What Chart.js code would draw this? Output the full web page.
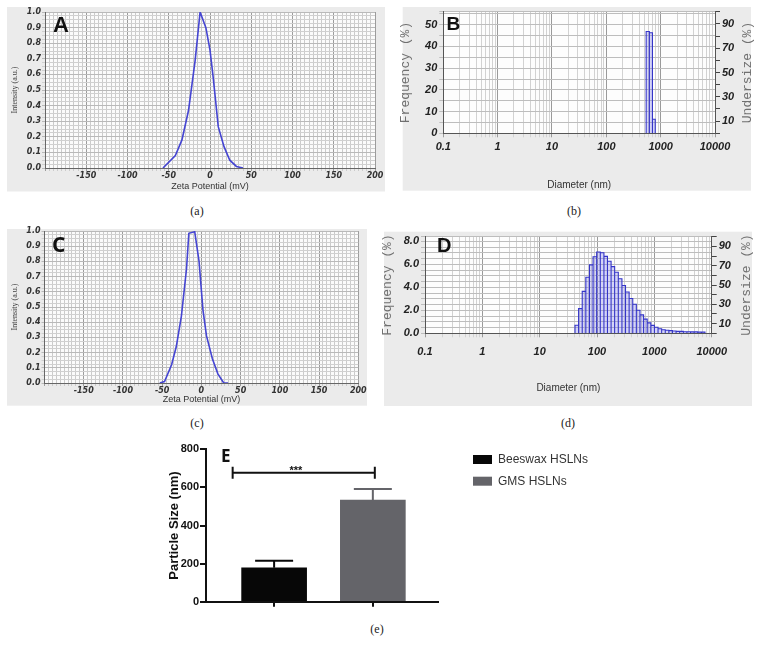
<!DOCTYPE html>
<html>
<head>
<meta charset="utf-8">
<script src="https://cdn.jsdelivr.net/npm/chart.js@4.4.1/dist/chart.umd.min.js"></script>
<style>
  body { margin: 0; background: #fff; width: 760px; height: 654px; position: relative; overflow: hidden; }
  canvas { position: absolute; }
  .cap { position: absolute; width: 40px; margin-left: -20px; text-align: center;
         font: 12px 'Liberation Serif', serif; line-height: 14px; color: #222; }
</style>
</head>
<body>
<canvas id="chartA" width="386" height="192" style="left:3px;top:3px"></canvas>
<canvas id="chartB" width="356" height="192" style="left:399px;top:3px"></canvas>
<canvas id="chartC" width="368" height="186" style="left:3px;top:225px"></canvas>
<canvas id="chartD" width="375" height="182" style="left:380px;top:227px"></canvas>
<canvas id="chartE" width="460" height="180" style="left:150px;top:440px"></canvas>
<div class="cap" style="left:197px;top:204px">(a)</div>
<div class="cap" style="left:574px;top:204px">(b)</div>
<div class="cap" style="left:197px;top:416px">(c)</div>
<div class="cap" style="left:568px;top:416px">(d)</div>
<div class="cap" style="left:377px;top:622px">(e)</div>
<script>
// zeta potential distributions (panels A, C)
const zetaA = [-57, -42, -34, -26, -18, -12, -5, 0, 4, 10, 17, 24, 32, 40];
const intensityA = [0, 0.08, 0.18, 0.37, 0.69, 1.0, 0.9, 0.755, 0.575, 0.265, 0.137, 0.05, 0.01, 0];
const zetaC = [-53, -47, -38, -32, -25.5, -19, -16, -8.5, -3, 2, 6.5, 14, 21, 28.5, 34];
const intensityC = [0, 0.01, 0.12, 0.24, 0.44, 0.75, 0.985, 0.995, 0.8, 0.48, 0.31, 0.16, 0.06, 0, 0];
const zetaTickLabels = [-150, -100, -50, 0, 50, 100, 150, 200];

// size distributions (panels B, D): bin edges in nm, frequency in %
const binEdgesB = [541, 620, 706, 795];
const freqB = [46.9, 46.3, 6.5];
const binEdgesD = [41.3, 47.7, 55.2, 63.8, 73.8, 85.3, 98.6, 114, 132, 152, 176, 203, 235, 272, 314, 363,
  420, 485, 561, 649, 750, 867, 1002, 1159, 1340, 1549, 1790, 2070, 2392, 2766, 3197, 3696, 4272, 4939, 5709, 6600, 7629];
const freqD = [0.7, 2.15, 3.65, 4.88, 5.95, 6.66, 7.07, 7.0, 6.69, 6.26, 5.8, 5.31, 4.74, 4.16, 3.59, 3.02, 2.53, 2.01,
  1.6, 1.23, 0.91, 0.69, 0.52, 0.4, 0.31, 0.26, 0.23, 0.2, 0.17, 0.17, 0.14, 0.14, 0.12, 0.12, 0.1, 0.1];
const diameterDecades = [0.1, 1, 10, 100, 1000, 10000];
const undersizeLabels = [10, 30, 50, 70, 90];

// particle size comparison (panel E)
const formulations = ['Beeswax HSLNs', 'GMS HSLNs'];
const particleSize = [178, 534];
const particleSD = [37, 57];
const barColors = ['#070707', '#646469'];
const bracketX = [-0.42, 1.02];
const bracketY = 677;
const sigLabel = '***';

const BLUE = '#4545d2';
const tickFont = "'Liberation Sans', Arial, sans-serif";

function bgPlugin(box, plotFill) {
  return {
    id: 'panelBg',
    beforeDraw(chart) {
      const { ctx, chartArea: a } = chart;
      ctx.save();
      ctx.fillStyle = '#ebebeb';
      ctx.fillRect(box[0], box[1], box[2] - box[0], box[3] - box[1]);
      ctx.fillStyle = plotFill;
      ctx.fillRect(a.left, a.top, a.right - a.left, a.bottom - a.top);
      ctx.restore();
    }
  };
}

function letterPlugin(text, x, y, font) {
  return {
    id: 'panelLetter',
    afterDraw(chart) {
      const ctx = chart.ctx;
      ctx.save();
      ctx.font = font;
      ctx.fillStyle = '#111';
      ctx.textBaseline = 'alphabetic';
      ctx.fillText(text, x, y);
      ctx.restore();
    }
  };
}

function rightTitlePlugin(text, x) {
  return {
    id: 'rightTitle',
    afterDraw(chart) {
      const a = chart.chartArea, ctx = chart.ctx;
      ctx.save();
      ctx.translate(x, (a.top + a.bottom) / 2);
      ctx.rotate(-Math.PI / 2);
      ctx.font = "13px 'Liberation Mono', monospace";
      ctx.fillStyle = '#707070';
      ctx.textAlign = 'center';
      ctx.textBaseline = 'middle';
      ctx.fillText(text, 0, 0);
      ctx.restore();
    }
  };
}

function stepTicks(top, step, max) {
  const t = [];
  for (let k = 0; k * step <= top + 1e-9; k++) t.push({ value: +(k * step).toFixed(4) });
  if (max > top) t.push({ value: max });
  return t;
}

function makeZeta(id, zeta, intensity, o) {
  new Chart(document.getElementById(id), {
    type: 'scatter',
    data: {
      datasets: [{
        data: zeta.map((x, i) => ({ x, y: intensity[i] })),
        showLine: true, pointRadius: 0, borderColor: BLUE, borderWidth: 1.6, tension: 0
      }]
    },
    options: {
      responsive: false, animation: false,
      layout: { padding: { top: o.padTop, right: o.padRight, left: 0, bottom: 0 } },
      plugins: { legend: { display: false }, tooltip: { enabled: false } },
      scales: {
        x: {
          min: -200, max: 200,
          afterBuildTicks: s => { s.ticks = stepTicks(400, 5, 400).map(t => ({ value: t.value - 200 })); },
          afterFit: s => { s.height = o.xHeight; },
          ticks: {
            autoSkip: false, maxRotation: 0, minRotation: 0, padding: 0,
            color: '#333', font: { family: 'DejaVu Sans', size: 8, style: 'italic', weight: 'bold' },
            callback: v => zetaTickLabels.includes(v) ? String(v) : ''
          },
          grid: {
            tickLength: 3,
            color: c => (c.tick && c.tick.value % 50 === 0) ? '#9c9c9c' : '#cbcbcb'
          },
          border: { color: '#666' },
          title: {
            display: true, text: 'Zeta Potential (mV)', color: '#333',
            font: { family: 'Liberation Sans', size: 9 }, padding: { top: 0, bottom: o.xTitlePad }
          }
        },
        y: {
          min: 0, max: 1,
          afterBuildTicks: s => { s.ticks = stepTicks(1, 0.025, 1); },
          afterFit: s => { s.width = o.yWidth; },
          ticks: {
            autoSkip: false, padding: 1,
            color: '#333', font: { family: 'DejaVu Sans', size: 8, style: 'italic', weight: 'bold' },
            callback: v => Math.abs(v * 10 - Math.round(v * 10)) < 1e-6 ? v.toFixed(1) : ''
          },
          grid: {
            tickLength: 3,
            color: c => (c.tick && Math.abs(c.tick.value * 10 - Math.round(c.tick.value * 10)) < 1e-6) ? '#b9b9b9' : '#d0d0d0'
          },
          border: { color: '#666' },
          title: {
            display: true, text: 'Intensity (a.u.)', color: '#444',
            font: { family: 'Liberation Serif', size: 8 }, padding: { top: o.yTitlePad, bottom: 0 }
          }
        }
      }
    },
    plugins: [bgPlugin(o.box, '#fbfbfb'), letterPlugin(o.letter, o.lx, o.ly, o.lfont)]
  });
}

function histOutline(edges, heights) {
  const pts = [];
  heights.forEach((h, i) => {
    pts.push({ x: edges[i], y: 0 }, { x: edges[i], y: h }, { x: edges[i + 1], y: h }, { x: edges[i + 1], y: 0 });
  });
  return pts;
}

function logGridTicks(decades) {
  const out = [];
  decades.forEach((d, i) => {
    out.push(d);
    if (i < decades.length - 1) {
      for (let m = 2; m <= 9; m++) out.push(+(d * m).toPrecision(6));
    }
  });
  return out.map(v => ({ value: v }));
}

function makeSize(id, edges, freq, o) {
  new Chart(document.getElementById(id), {
    type: 'scatter',
    data: {
      datasets: [{
        data: histOutline(edges, freq),
        showLine: true, pointRadius: 0, borderColor: '#3535c8', borderWidth: 1.1, tension: 0,
        fill: 'origin', backgroundColor: 'rgba(120,120,235,0.3)'
      }]
    },
    options: {
      responsive: false, animation: false,
      layout: { padding: { top: o.padTop, right: 0, left: 0, bottom: 0 } },
      plugins: { legend: { display: false }, tooltip: { enabled: false } },
      scales: {
        x: {
          type: 'logarithmic', min: 0.1, max: 10000,
          afterBuildTicks: s => { s.ticks = logGridTicks(diameterDecades); },
          afterFit: s => { s.height = o.xHeight; },
          ticks: {
            autoSkip: false, maxRotation: 0, minRotation: 0, padding: o.xTickPad,
            color: '#222', font: { family: tickFont, size: 11, style: 'italic', weight: 'bold' },
            callback: v => diameterDecades.includes(v) ? String(v) : ''
          },
          grid: {
            tickLength: 4,
            color: c => (c.tick && diameterDecades.includes(c.tick.value)) ? '#9a9a9a' : '#d2d2d2'
          },
          border: { color: '#555' },
          title: {
            display: true, text: 'Diameter (nm)', color: '#333',
            font: { family: tickFont, size: 10 }, padding: { top: 0, bottom: o.xTitlePad }
          }
        },
        y: {
          min: 0, max: o.yMax,
          afterBuildTicks: s => { s.ticks = stepTicks(o.yTop, o.yStep, o.yMax); },
          afterFit: s => { s.width = o.yWidth; },
          ticks: {
            autoSkip: false, padding: 2,
            color: '#222', font: { family: tickFont, size: 11, style: 'italic', weight: 'bold' },
            callback: o.yLabel
          },
          grid: { tickLength: 4, color: '#bdbdbd' },
          border: { color: '#555' },
          title: {
            display: true, text: 'Frequency (%)', color: '#707070',
            font: { family: "'Liberation Mono', monospace", size: 13, lineHeight: 1 },
            padding: { top: o.yTitlePad, bottom: 0 }
          }
        },
        y2: {
          position: 'right', min: 0, max: 100,
          afterBuildTicks: s => { s.ticks = stepTicks(100, 10, 100); },
          afterFit: s => { s.width = o.y2Width; },
          ticks: {
            autoSkip: false, padding: 2,
            color: '#222', font: { family: tickFont, size: 11, style: 'italic', weight: 'bold' },
            callback: v => undersizeLabels.includes(v) ? String(v) : ''
          },
          grid: { drawOnChartArea: false, tickLength: 5, color: '#444' },
          border: { color: '#555' }
        }
      }
    },
    plugins: [bgPlugin(o.box, '#fdfdfd'), letterPlugin(o.letter, o.lx, o.ly, o.lfont),
      rightTitlePlugin('Undersize (%)', o.rtx)]
  });
}

makeZeta('chartA', zetaA, intensityA, {
  box: [4, 4, 382, 188.5], yWidth: 42, xHeight: 27, padTop: 9, padRight: 14,
  yTitlePad: 7, xTitlePad: 3,
  letter: 'A', lx: 50, ly: 29, lfont: "bold 22px 'Liberation Sans', Arial, sans-serif"
});

makeZeta('chartC', zetaC, intensityC, {
  box: [4, 4, 364, 180.7], yWidth: 41.5, xHeight: 28, padTop: 6, padRight: 12.7,
  yTitlePad: 7, xTitlePad: 6.5,
  letter: 'C', lx: 49, ly: 27, lfont: "bold 21px 'Open Sans', sans-serif"
});

makeSize('chartB', binEdgesB, freqB, {
  box: [3.7, 4, 352, 187.7], yWidth: 44.3, y2Width: 40, xHeight: 61.7, padTop: 8.7,
  xTickPad: 3, xTitlePad: 3.4, yTitlePad: 0, yMax: 56, yTop: 55, yStep: 5,
  yLabel: v => (v % 10 === 0) ? String(v) : '',
  rtx: 349,
  letter: 'B', lx: 47.5, ly: 27, lfont: "bold 19px 'Liberation Sans', Arial, sans-serif"
});

makeSize('chartD', binEdgesD, freqD, {
  box: [4, 4.7, 372, 179], yWidth: 45, y2Width: 43.3, xHeight: 75.7, padTop: 9.7,
  xTickPad: 8, xTitlePad: 14.4, yTitlePad: 1, yMax: 8.4, yTop: 8, yStep: 0.5,
  yLabel: v => (Math.abs(v % 2) < 1e-9) ? v.toFixed(1) : '',
  rtx: 366.7,
  letter: 'D', lx: 57, ly: 25, lfont: "bold 20px 'Liberation Sans', Arial, sans-serif"
});

// panel E: error bars, significance bracket and side legend
const errorBarsPlugin = {
  id: 'errorBars',
  afterDatasetsDraw(chart) {
    const ctx = chart.ctx, ys = chart.scales.y, xs = chart.scales.x;
    ctx.save();
    ctx.lineWidth = 2;
    chart.data.datasets.forEach((ds, i) => {
      const bar = chart.getDatasetMeta(i).data[0];
      const top = ys.getPixelForValue(particleSize[i] + particleSD[i]);
      ctx.strokeStyle = barColors[i];
      ctx.beginPath();
      ctx.moveTo(bar.x, bar.y);
      ctx.lineTo(bar.x, top);
      ctx.moveTo(bar.x - 19, top);
      ctx.lineTo(bar.x + 19, top);
      ctx.stroke();
    });
    const x0 = xs.getPixelForValue(bracketX[0]), x1 = xs.getPixelForValue(bracketX[1]);
    const yb = ys.getPixelForValue(bracketY);
    ctx.strokeStyle = '#111';
    ctx.beginPath();
    ctx.moveTo(x0, yb); ctx.lineTo(x1, yb);
    ctx.moveTo(x0, yb - 6); ctx.lineTo(x0, yb + 6);
    ctx.moveTo(x1, yb - 6); ctx.lineTo(x1, yb + 6);
    ctx.stroke();
    ctx.fillStyle = '#111';
    ctx.font = "bold 11px 'Liberation Sans', Arial, sans-serif";
    ctx.textAlign = 'center';
    ctx.textBaseline = 'middle';
    ctx.fillText(sigLabel, xs.getPixelForValue(0.22), yb - 2);
    ctx.restore();
  },
  afterDraw(chart) {
    const ctx = chart.ctx;
    ctx.save();
    ctx.font = "12px 'Liberation Sans', Arial, sans-serif";
    ctx.textBaseline = 'middle';
    chart.data.datasets.forEach((ds, i) => {
      const y = 15 + i * 21.7;
      ctx.fillStyle = ds.backgroundColor;
      ctx.fillRect(323, y, 19, 9);
      ctx.fillStyle = '#333';
      ctx.fillText(ds.label, 348, y + 4.5);
    });
    ctx.restore();
  }
};

new Chart(document.getElementById('chartE'), {
  type: 'bar',
  data: {
    datasets: formulations.map((name, i) => ({
      label: name,
      data: [{ x: i, y: particleSize[i] }],
      backgroundColor: barColors[i],
      barThickness: 65,
      grouped: false
    }))
  },
  options: {
    responsive: false, animation: false,
    layout: { padding: { top: 9.3, right: 172, left: 0, bottom: 0 } },
    plugins: { legend: { display: false }, tooltip: { enabled: false } },
    scales: {
      x: {
        type: 'linear', min: -0.69, max: 1.66, offset: false,
        afterBuildTicks: s => { s.ticks = formulations.map((f, i) => ({ value: i })); },
        afterFit: s => { s.height = 18.3; },
        ticks: { callback: () => '' },
        grid: { drawOnChartArea: false, offset: false, tickLength: 5, color: '#111', lineWidth: 2 },
        border: { color: '#111', width: 2 }
      },
      y: {
        min: 0, max: 800,
        afterFit: s => { s.width = 56; },
        ticks: {
          stepSize: 200, padding: 1, color: '#111',
          font: { family: "'Liberation Sans', Arial, sans-serif", size: 11, weight: 'bold' }
        },
        grid: { drawOnChartArea: false, tickLength: 6, color: '#111', lineWidth: 2 },
        border: { color: '#111', width: 2 },
        title: {
          display: true, text: 'Particle Size (nm)', color: '#111',
          font: { family: "'Liberation Sans', Arial, sans-serif", size: 13, weight: 'bold' },
          padding: { top: 17, bottom: 0 }
        }
      }
    }
  },
  plugins: [errorBarsPlugin, letterPlugin('E', 71, 22, "bold 17px 'Open Sans', sans-serif")]
});
</script>
</body>
</html>
